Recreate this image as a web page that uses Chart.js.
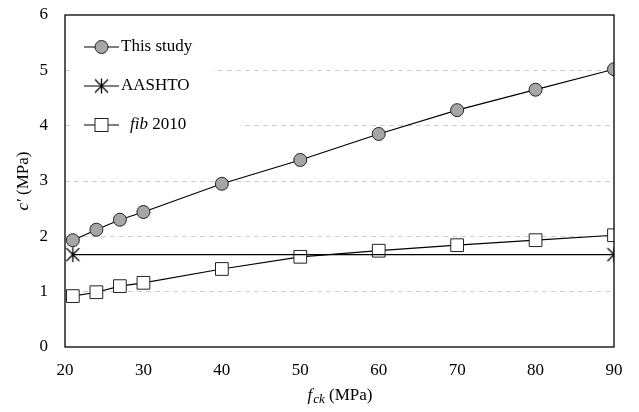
<!DOCTYPE html>
<html>
<head>
<meta charset="utf-8">
<script src="https://cdn.jsdelivr.net/npm/chart.js@4"></script>
<style>
  body { margin: 0; background: #fff; }
  #wrap { width: 639px; height: 412px; }
</style>
</head>
<body>
<div id="wrap"><canvas id="chart" width="639" height="412"></canvas></div>
<script>
const fck = [21, 24, 27, 30, 40, 50, 60, 70, 80, 90];
const thisStudy = [1.93, 2.12, 2.30, 2.44, 2.95, 3.38, 3.85, 4.28, 4.65, 5.02];
const aashtoX = [21, 90];
const aashto = [1.67, 1.67];
const fib2010 = [0.92, 0.99, 1.10, 1.16, 1.41, 1.63, 1.74, 1.84, 1.93, 2.02];
const xTicks = [20, 30, 40, 50, 60, 70, 80, 90];
const yTicks = [0, 1, 2, 3, 4, 5, 6];

const FONT = "Liberation Serif";

// asterisk marker (X with vertical bar)
const star = document.createElement("canvas");
star.width = 17; star.height = 17;
(() => {
  const c = star.getContext("2d");
  c.strokeStyle = "#000"; c.lineWidth = 1.3;
  c.beginPath();
  c.moveTo(2, 2); c.lineTo(15, 15);
  c.moveTo(15, 2); c.lineTo(2, 15);
  c.moveTo(8.5, 1); c.lineTo(8.5, 16);
  c.stroke();
})();

const pts = (xs, ys) => xs.map((x, i) => ({ x: x, y: ys[i] }));

const frame = {
  id: "frame",
  beforeDatasetsDraw(chart) {
    const ctx = chart.ctx;
    ctx.save();
    ctx.fillStyle = "#fff";
    ctx.fillRect(72, 28, 141, 72);
    ctx.fillRect(72, 100, 168, 42);
    ctx.restore();
  },
  afterDraw(chart) {
    const ctx = chart.ctx;
    const a = chart.chartArea;
    ctx.save();
    ctx.strokeStyle = "#000";
    ctx.lineWidth = 1.3;
    ctx.strokeRect(a.left, a.top, a.right - a.left, a.bottom - a.top);

    // legend
    const items = [
      { y: 47, type: "circle" },
      { y: 86, type: "star" },
      { y: 125, type: "square" }
    ];
    items.forEach((it) => {
      ctx.strokeStyle = "#000";
      ctx.lineWidth = 1.2;
      ctx.beginPath();
      ctx.moveTo(84, it.y); ctx.lineTo(119, it.y);
      ctx.stroke();
      if (it.type === "circle") {
        ctx.beginPath();
        ctx.arc(101.5, it.y, 6.5, 0, Math.PI * 2);
        ctx.fillStyle = "#a6a6a6"; ctx.fill();
        ctx.strokeStyle = "#222"; ctx.lineWidth = 1; ctx.stroke();
      } else if (it.type === "star") {
        ctx.drawImage(star, 93, it.y - 8.5);
      } else {
        ctx.fillStyle = "#fff";
        ctx.fillRect(95, it.y - 6.5, 13, 13);
        ctx.strokeStyle = "#222"; ctx.lineWidth = 1;
        ctx.strokeRect(95, it.y - 6.5, 13, 13);
      }
    });
    ctx.fillStyle = "#000";
    ctx.textBaseline = "middle";
    ctx.textAlign = "left";
    ctx.font = "17px '" + FONT + "'";
    ctx.fillText("This study", 121, 47);
    ctx.fillText("AASHTO", 121, 86);
    ctx.font = "italic 17px '" + FONT + "'";
    ctx.fillText("fib", 130, 125);
    let w = ctx.measureText("fib ").width;
    ctx.font = "17px '" + FONT + "'";
    ctx.fillText("2010", 130 + w, 125);

    // y title: c′ (MPa)
    ctx.save();
    ctx.translate(24, (a.top + a.bottom) / 2);
    ctx.rotate(-Math.PI / 2);
    ctx.textAlign = "left";
    ctx.font = "italic 17px '" + FONT + "'";
    const p1 = "c\u2032";
    const w1 = ctx.measureText(p1 + " ").width;
    ctx.font = "17px '" + FONT + "'";
    const p2 = "(MPa)";
    const w2 = ctx.measureText(p2).width;
    const x0 = -(w1 + w2) / 2;
    ctx.font = "italic 17px '" + FONT + "'";
    ctx.fillText(p1, x0, 0);
    ctx.font = "17px '" + FONT + "'";
    ctx.fillText(p2, x0 + w1, 0);
    ctx.restore();

    // x title: f_ck (MPa)
    ctx.font = "italic 17px '" + FONT + "'";
    const fw = ctx.measureText("f").width;
    ctx.font = "italic 13px '" + FONT + "'";
    const cw = ctx.measureText("ck").width;
    ctx.font = "17px '" + FONT + "'";
    const mw = ctx.measureText(" (MPa)").width;
    let xs = (a.left + a.right) / 2 - (fw + cw + mw) / 2;
    const yb = 396;
    ctx.font = "italic 17px '" + FONT + "'";
    ctx.fillText("f", xs, yb);
    ctx.font = "italic 13px '" + FONT + "'";
    ctx.fillText("ck", xs + fw + 1, yb + 4);
    ctx.font = "17px '" + FONT + "'";
    ctx.fillText(" (MPa)", xs + fw + cw + 1, yb);
    ctx.restore();
  }
};

new Chart(document.getElementById("chart"), {
  type: "line",
  data: {
    datasets: [
      {
        label: "This study",
        data: pts(fck, thisStudy),
        borderColor: "#000",
        borderWidth: 1.2,
        pointStyle: "circle",
        pointRadius: 6.5,
        pointBackgroundColor: "#a6a6a6",
        pointBorderColor: "#222",
        pointBorderWidth: 1
      },
      {
        label: "AASHTO",
        data: pts(aashtoX, aashto),
        borderColor: "#000",
        borderWidth: 1.2,
        pointStyle: star,
        pointRadius: 8
      },
      {
        label: "fib 2010",
        data: pts(fck, fib2010),
        borderColor: "#000",
        borderWidth: 1.2,
        pointStyle: "rect",
        pointRadius: 9,
        pointBackgroundColor: "#fff",
        pointBorderColor: "#222",
        pointBorderWidth: 1
      }
    ]
  },
  options: {
    responsive: false,
    animation: false,
    layout: { padding: { left: 0, right: 25, top: 15, bottom: 0 } },
    plugins: { legend: { display: false }, tooltip: { enabled: false } },
    elements: { line: { tension: 0 } },
    scales: {
      x: {
        type: "linear",
        min: 20,
        max: 90,
        afterBuildTicks: (s) => { s.ticks = xTicks.map((v) => ({ value: v })); },
        afterFit: (s) => { s.height = 65; s.paddingLeft = 0; s.paddingRight = 0; },
        grid: { display: false, drawTicks: false },
        border: { display: false },
        ticks: { color: "#000", padding: 13, font: { family: FONT, size: 17 } }
      },
      y: {
        min: 0,
        max: 6,
        afterBuildTicks: (s) => { s.ticks = yTicks.map((v) => ({ value: v })); },
        afterFit: (s) => { s.width = 65; s.paddingTop = 0; s.paddingBottom = 0; },
        grid: {
          drawTicks: false,
          color: (c) => (c.tick && (c.tick.value === 0 || c.tick.value === 6)) ? "rgba(0,0,0,0)" : "#cfcfcf",
          lineWidth: 1
        },
        border: { display: false, dash: [5, 4] },
        ticks: { color: "#000", padding: 17, font: { family: FONT, size: 17 } }
      }
    }
  },
  plugins: [frame]
});
</script>
</body>
</html>
